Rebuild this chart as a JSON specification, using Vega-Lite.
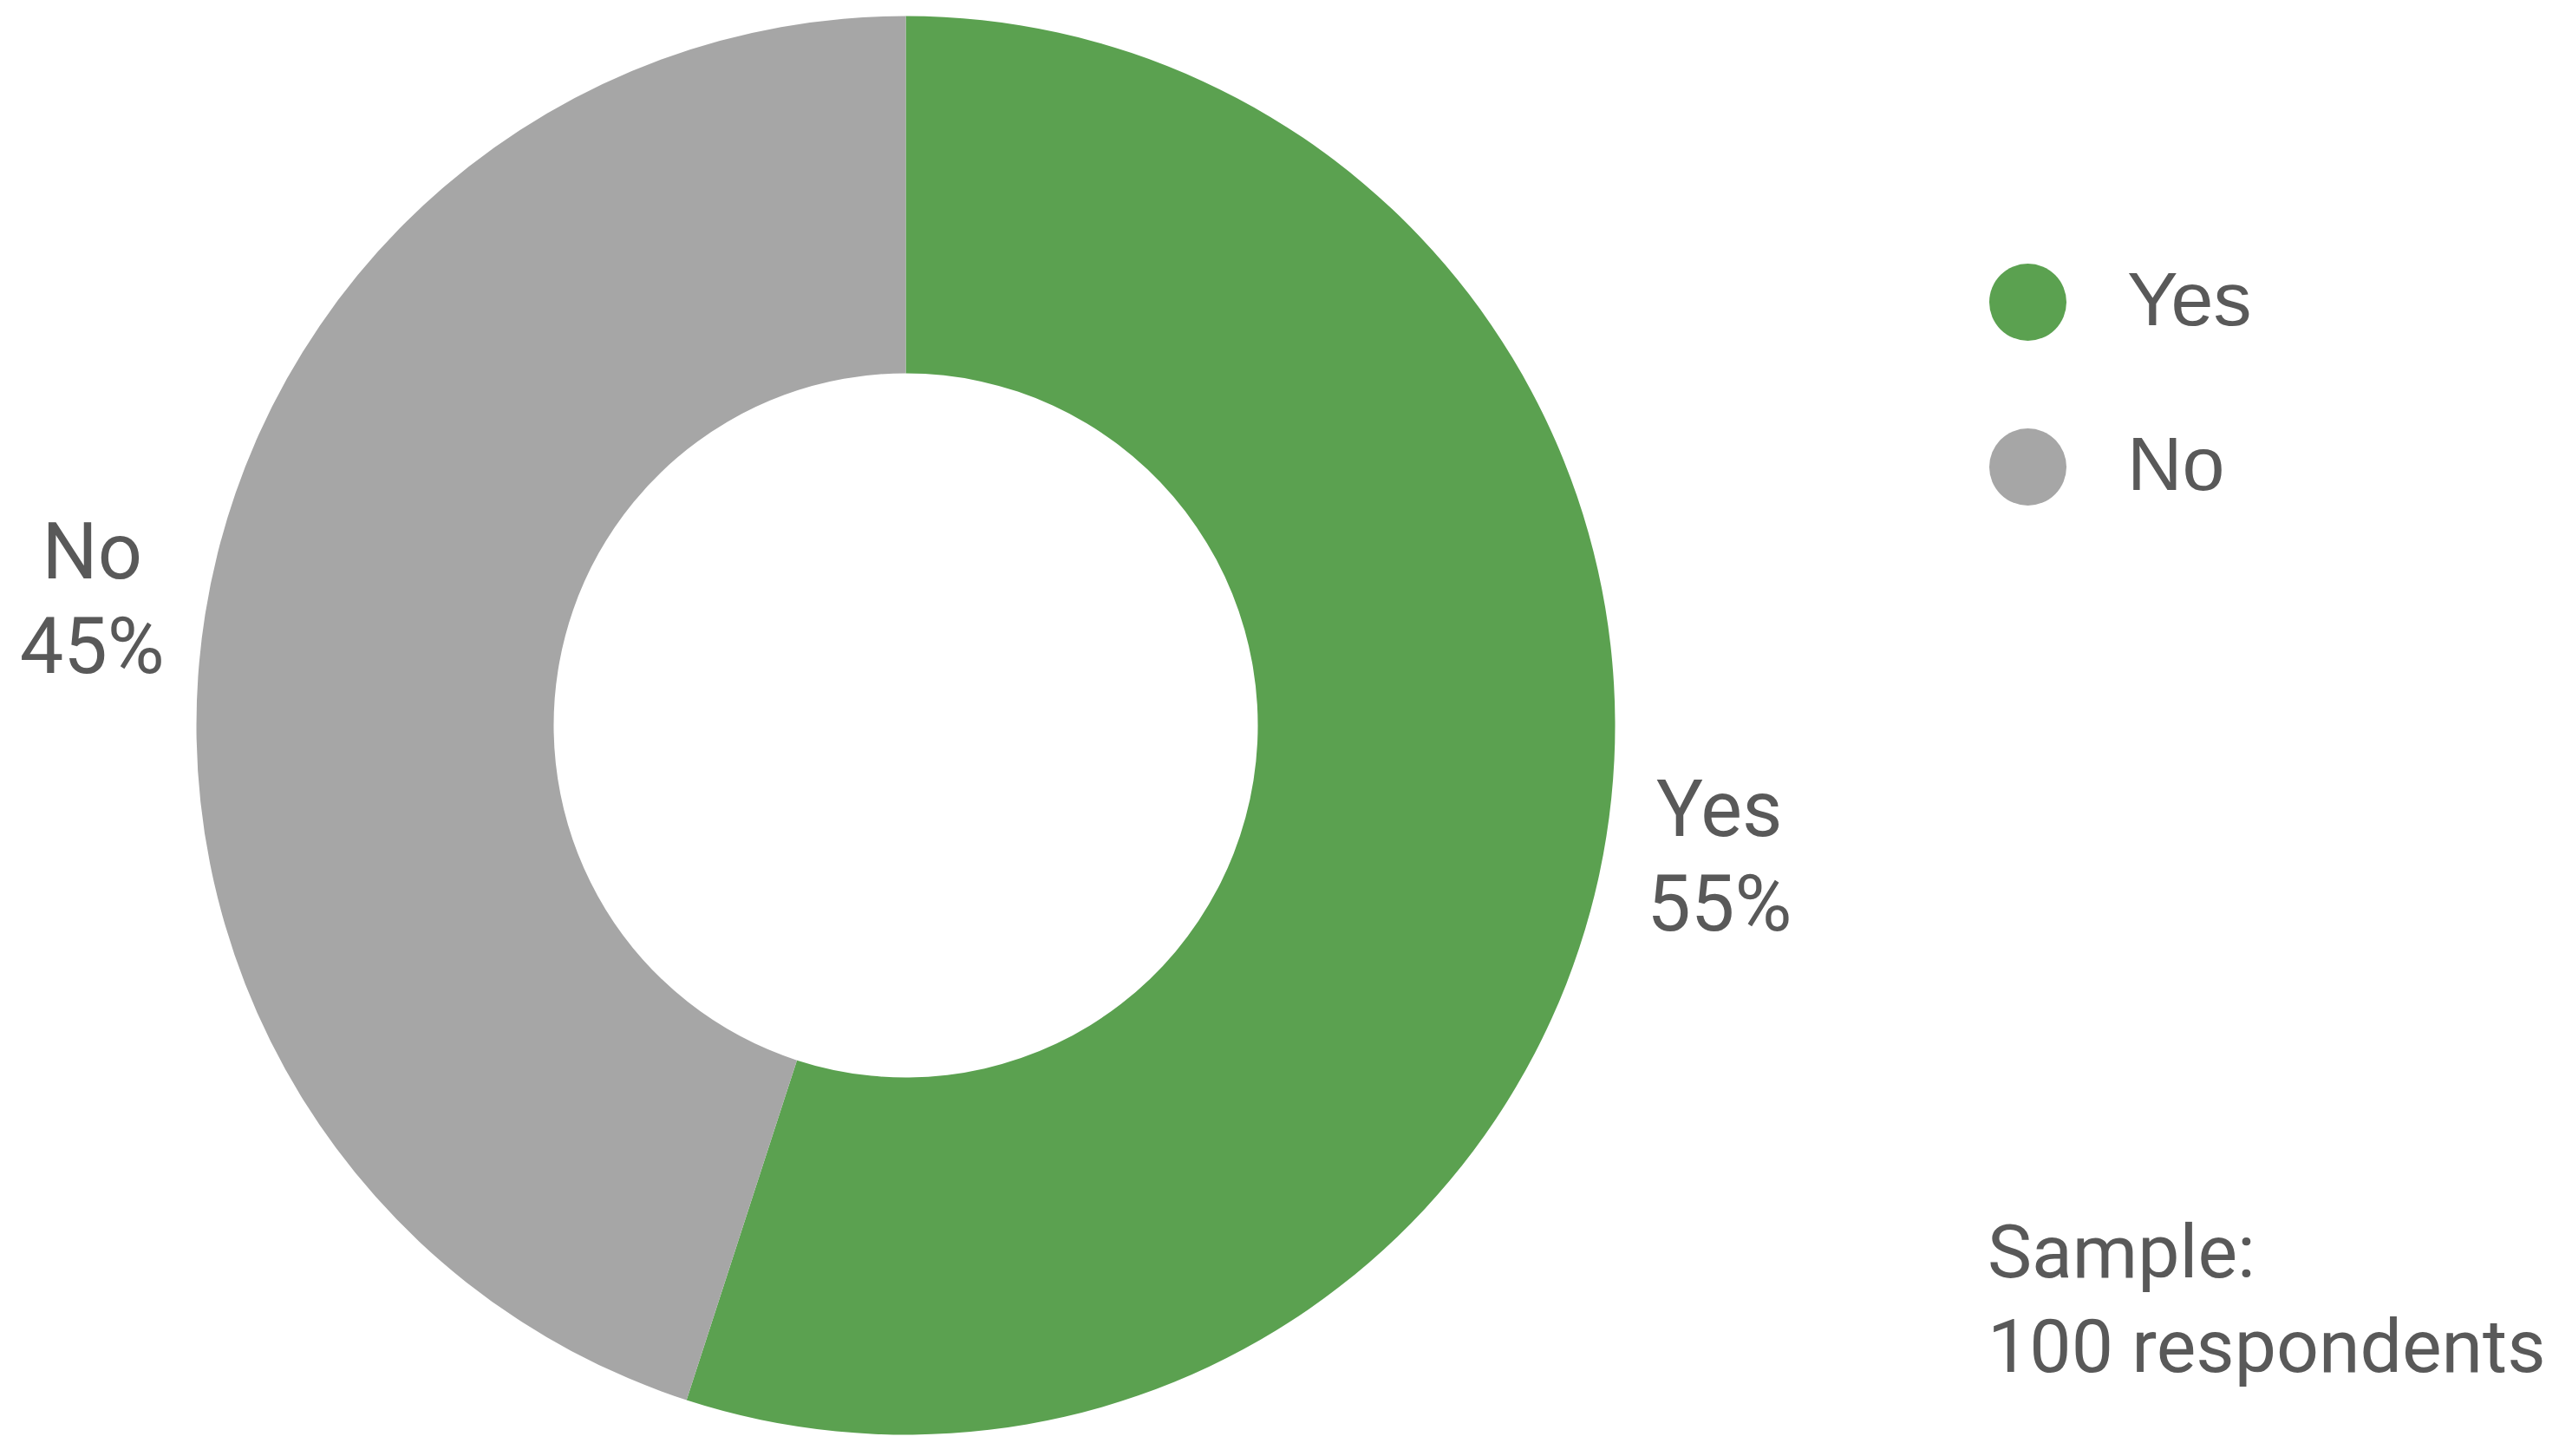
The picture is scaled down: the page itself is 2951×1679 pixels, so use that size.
{
  "$schema": "https://vega.github.io/schema/vega-lite/v6.json",
  "width": 2089,
  "height": 1673,
  "autosize": {"type": "none"},
  "padding": {"left": 0, "top": 0, "right": 862, "bottom": 6},
  "background": "white",
  "data": {
    "values": [
      {"answer": "Yes", "pct": 55, "label": "Yes\n55%", "order": 1},
      {"answer": "No", "pct": 45, "label": "No\n45%", "order": 2}
    ]
  },
  "title": {
    "text": ["Sample:", "100 respondents"],
    "orient": "bottom",
    "anchor": "start",
    "frame": "group",
    "align": "left",
    "baseline": "alphabetic",
    "dx": 2292,
    "dy": -200,
    "offset": 0,
    "font": "Roboto",
    "fontSize": 86,
    "fontWeight": "normal",
    "color": "#595959",
    "lineHeight": 109
  },
  "config": {"view": {"stroke": null}},
  "encoding": {
    "theta": {"field": "pct", "type": "quantitative", "stack": true},
    "order": {"field": "order", "type": "quantitative"}
  },
  "layer": [
    {
      "mark": {"type": "arc", "outerRadius": 818, "innerRadius": 406},
      "encoding": {
        "color": {
          "field": "answer",
          "type": "nominal",
          "scale": {"domain": ["Yes", "No"], "range": ["#5BA150", "#A6A6A6"]},
          "legend": {
            "title": null,
            "orient": "none",
            "legendX": 2294,
            "legendY": 304,
            "padding": 0,
            "symbolType": "circle",
            "symbolSize": 7921,
            "symbolStrokeWidth": 0,
            "symbolOpacity": 1,
            "rowPadding": 101,
            "labelOffset": 70,
            "labelFont": "Liberation Sans",
            "labelFontSize": 88,
            "labelColor": "#595959",
            "labelLimit": 0
          }
        }
      }
    },
    {
      "mark": {
        "type": "text",
        "radius": 950,
        "dy": -48,
        "fontSize": 90,
        "font": "Roboto",
        "color": "#595959",
        "align": "center",
        "baseline": "middle",
        "lineBreak": "\n",
        "lineHeight": 109
      },
      "encoding": {
        "text": {"field": "label", "type": "nominal"}
      }
    }
  ]
}
